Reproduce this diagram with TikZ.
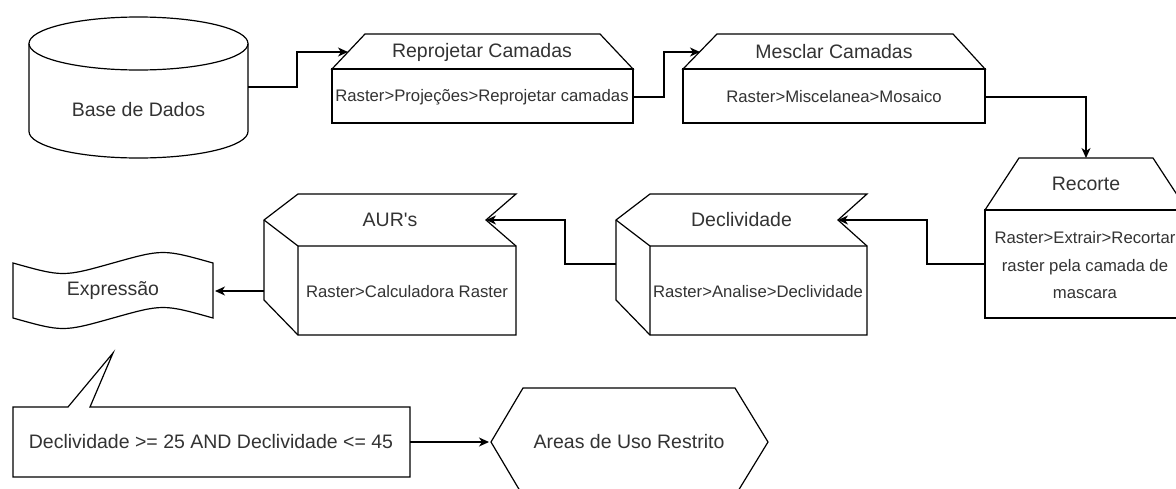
\documentclass[tikz,border=0pt]{standalone}
\usepackage{fontspec}
\setmainfont{Liberation Sans}[Ligatures=TeXOff]
\usetikzlibrary{arrows.meta}
\tikzset{
  shp/.style={draw=black, line width=1.2pt, fill=white, line join=miter},
  ln/.style={draw=black, line width=1.2pt},
  arr/.style={ln, -{Stealth[length=10pt,width=9pt,inset=3pt]}},
  big/.style={text=black!80, font=\fontsize{19.5}{23}\selectfont, inner sep=0pt},
  small/.style={text=black!80, font=\fontsize{16.7}{27.5}\selectfont, inner sep=0pt, align=center},
}
\begin{document}
\begin{tikzpicture}[x=1pt,y=-1pt]
\clip (0,0) rectangle (1176,488);
\fill[white] (0,0) rectangle (1176,488);

% Base de Dados (cylinder)
\filldraw[shp] (29,43.5) -- (29,131.5) arc[start angle=180,end angle=360,x radius=109.5pt,y radius=26.5pt] -- (248,43.5);
\filldraw[shp] (138.5,43.5) ellipse[x radius=109.5pt,y radius=26.5pt];
\node[big] (bd) at (138.5,110) {Base de Dados};
\coordinate (bdR) at (248,87);

% Reprojetar Camadas
\filldraw[shp] (332,69) -- (365,34) -- (600,34) -- (633,69) -- cycle;
\filldraw[shp] (332,69) rectangle (633,123);
\node[big] (rep) at (482,52) {Reprojetar Camadas};
\node[small] (repT) at (482,97) {Raster>Projeções>Reprojetar camadas};
\coordinate (repIn) at (348,52);
\coordinate (repOut) at (633,97);

% Mesclar Camadas
\filldraw[shp] (683,69) -- (717,34) -- (953,34) -- (985,69) -- cycle;
\filldraw[shp] (683,69) rectangle (985,123);
\node[big] (mes) at (834,52) {Mesclar Camadas};
\node[small] (mesT) at (834,97) {Raster>Miscelanea>Mosaico};
\coordinate (mesIn) at (700,52);
\coordinate (mesOut) at (985,97);

% Recorte
\filldraw[shp] (985,210) -- (1019,158) -- (1153,158) -- (1187,210) -- cycle;
\filldraw[shp] (985,210) rectangle (1187,318);
\node[big] (rec) at (1086,184) {Recorte};
\node[small] (recT) at (1085,265.5) {Raster>Extrair>Recortar\\raster pela camada de\\mascara};
\coordinate (recIn) at (1086,158);
\coordinate (recOut) at (985,264);

% Declividade
\filldraw[shp] (650,194) -- (867,194) -- (838,220) -- (867,246) -- (867,335) -- (650,335) -- (616,300) -- (616,220) -- cycle;
\draw[ln] (616,220) -- (650,246) -- (867,246) (650,246) -- (650,335);
\node[big] (dec) at (741.5,220) {Declividade};
\node[small] (decT) at (758,292) {Raster>Analise>Declividade};
\coordinate (decIn) at (838,220);
\coordinate (decOut) at (616,264);

% AUR's
\filldraw[shp] (298,194) -- (516,194) -- (486,220) -- (516,246) -- (516,335) -- (298,335) -- (264,300) -- (264,220) -- cycle;
\draw[ln] (264,220) -- (298,246) -- (516,246) (298,246) -- (298,335);
\node[big] (aur) at (390,220) {AUR's};
\node[small] (aurT) at (407,292) {Raster>Calculadora Raster};
\coordinate (aurIn) at (486,220);
\coordinate (aurOut) at (264,291);

% Expressao (tape)
\filldraw[shp] (13,263) .. controls (63,277) .. (113,263) .. controls (163,249) .. (213,263)
  -- (213,318) .. controls (163,304) .. (113,318) .. controls (63,332) .. (13,318) -- cycle;
\node[big] (exp) at (113,291) {Expressão};
\coordinate (expIn) at (215,291);

% Callout
\filldraw[shp] (13,407) -- (68,407) -- (113,353) -- (90,407) -- (410,407) -- (410,477) -- (13,477) -- cycle;
\node[big] (cond) at (211,442) {Declividade >= 25 AND Declividade <= 45};
\coordinate (condOut) at (410,442);

% Hexagon
\filldraw[shp] (491,442) -- (523,388) -- (735,388) -- (768,442) -- (735,496) -- (523,496) -- cycle;
\node[big] (aus) at (629,442) {Areas de Uso Restrito};
\coordinate (ausIn) at (489,442);

% Connectors
\draw[arr] (bdR) -- ++(49,0) |- (repIn);
\draw[arr] (repOut) -- ++(31,0) |- (mesIn);
\draw[arr] (mesOut) -| (recIn);
\draw[arr] (recOut) -- ++(-58,0) |- (decIn);
\draw[arr] (decOut) -- ++(-51,0) |- (aurIn);
\draw[arr] (aurOut) -- (expIn);
\draw[arr] (condOut) -- (ausIn);
\end{tikzpicture}
\end{document}
